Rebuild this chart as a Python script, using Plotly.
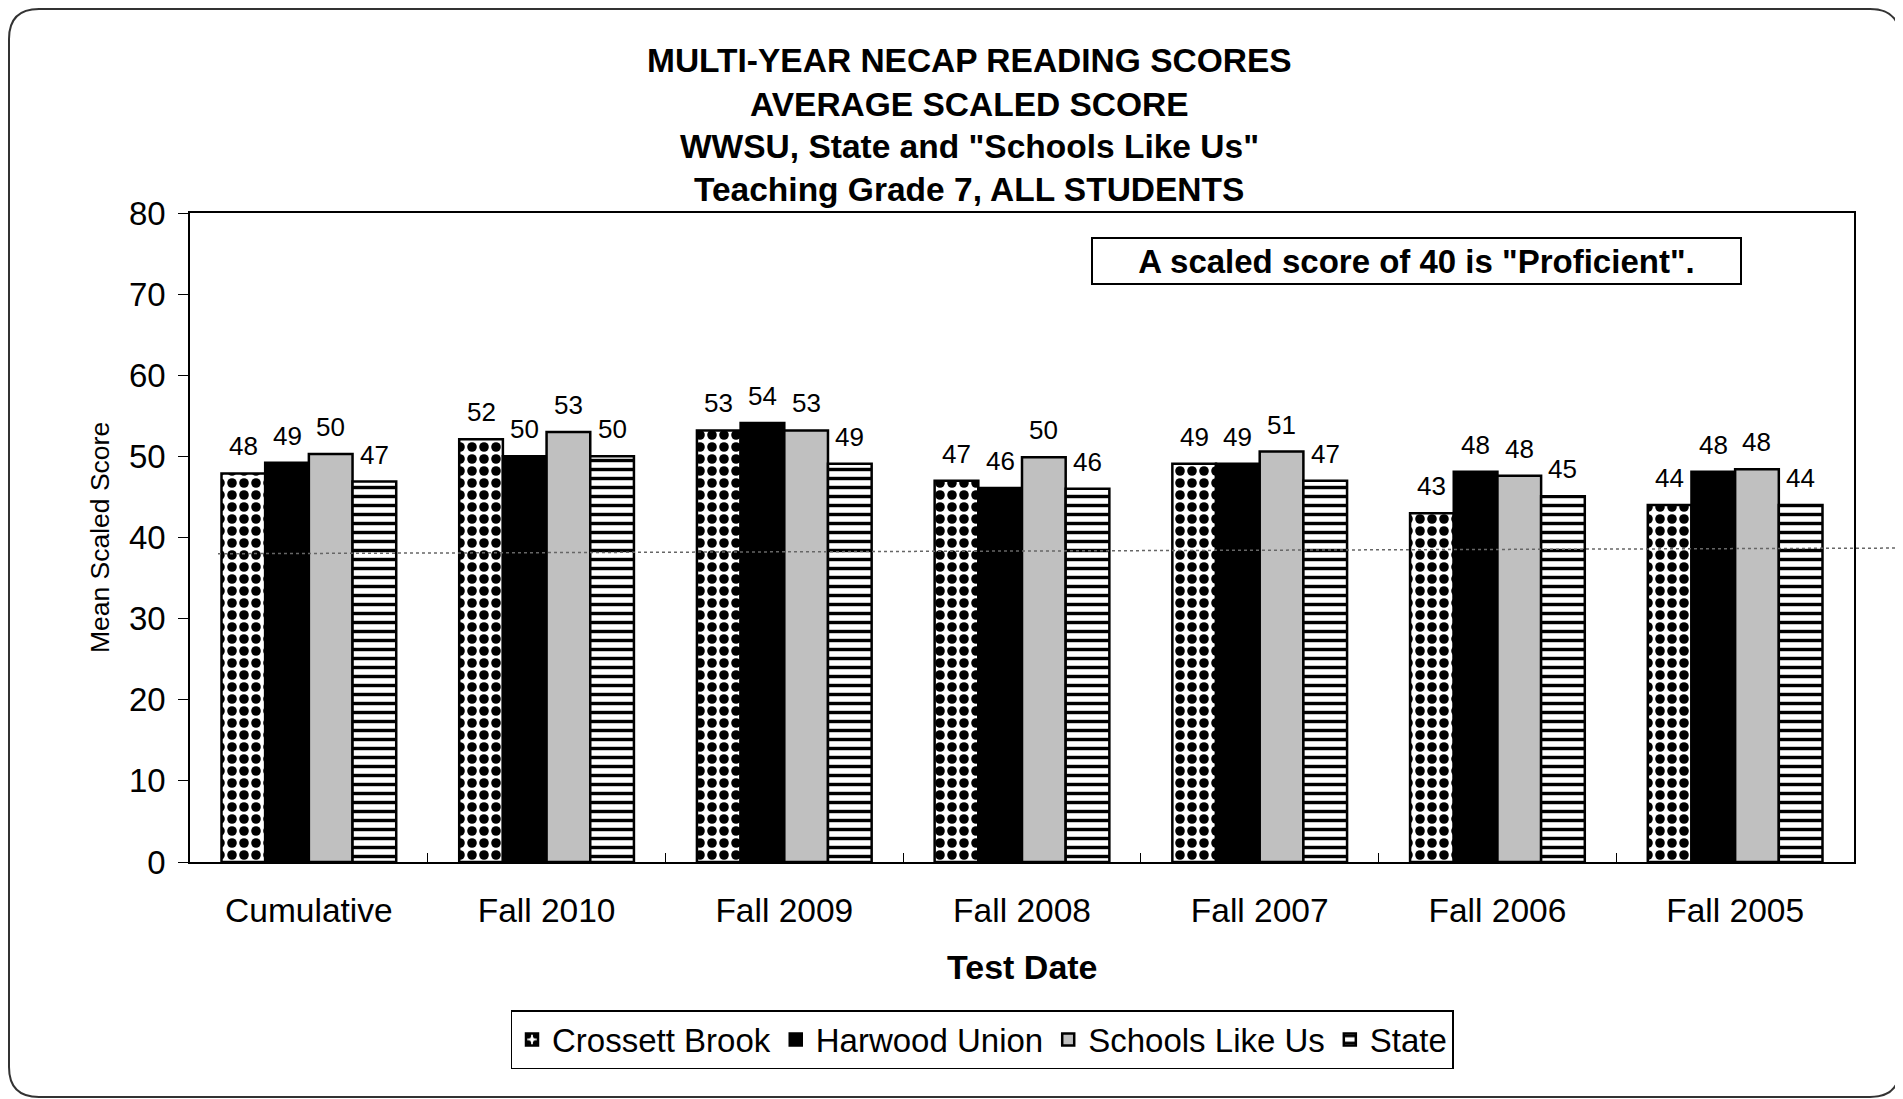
import plotly.graph_objects as go

# data
test_dates = ['Cumulative', 'Fall 2010', 'Fall 2009', 'Fall 2008', 'Fall 2007', 'Fall 2006', 'Fall 2005']
crossett_brook = [47.9, 52.1, 53.2, 47.0, 49.1, 43.0, 44.0]
harwood_union = [49.2, 50.0, 54.1, 46.1, 49.1, 48.1, 48.1]
schools_like_us = [50.3, 53.0, 53.2, 49.9, 50.6, 47.6, 48.4]
state = [46.9, 50.0, 49.1, 46.0, 47.0, 45.1, 44.0]
proficient_line = [38.0, 38.7]  # faint dotted reference line (left end, right end)

title_lines = ['MULTI-YEAR NECAP READING SCORES', 'AVERAGE SCALED SCORE',
               'WWSU, State and "Schools Like Us"', 'Teaching Grade 7, ALL STUDENTS']

# plot area in page pixels (page has an 8px body margin)
OFF = 8
L, R, T, B = 190, 1854, 213, 862
W, H = 1903, 1099
BARGAP = 0.265


def px_x(p):
    return (p - L) / (R - L)


def px_y(p):
    return (B - p) / (B - T)


FONT = 'Liberation Sans, Arial, sans-serif'

fig = go.Figure()

series = [
    ('Crossett Brook', crossett_brook, 'white',
     dict(shape='.', bgcolor='white', fgcolor='black', size=12, solidity=0.5, fillmode='replace')),
    ('Harwood Union', harwood_union, 'black', None),
    ('Schools Like Us', schools_like_us, '#c0c0c0', None),
    ('State', state, 'white',
     dict(shape='-', bgcolor='white', fgcolor='black', size=9, solidity=0.38, fillmode='replace')),
]

annotations = []
cat_w = (R - L) / len(test_dates)
bar_w = cat_w * (1 - BARGAP) / len(series)

for i, (name, vals, color, pattern) in enumerate(series):
    marker = dict(color=color, line=dict(color='black', width=2.5))
    if pattern:
        marker['pattern'] = pattern
    fig.add_trace(go.Bar(x=test_dates, y=vals, name=name, marker=marker))
    # value labels
    for cat, v in zip(test_dates, vals):
        annotations.append(dict(text=f'{v:.0f}', x=cat, y=v, xref='x', yref='y', showarrow=False,
                                xshift=(i - 1.5) * bar_w, yshift=10, yanchor='bottom',
                                font=dict(family=FONT, size=26, color='black')))

title_y = [60.7, 104.4, 146.8, 189.3]
for line, yy in zip(title_lines, title_y):
    annotations.append(dict(text='<b>' + line + '</b>', x=px_x(969), y=px_y(yy), xref='paper', yref='paper',
                            showarrow=False, font=dict(family=FONT, size=33.5, color='black'),
                            xanchor='center', yanchor='middle'))

annotations.append(dict(text='<b>A scaled score of 40 is "Proficient".</b>', x=px_x(1416.5), y=px_y(261),
                        xref='paper', yref='paper', showarrow=False, width=645, height=42,
                        bordercolor='black', borderwidth=2, bgcolor='white',
                        font=dict(family=FONT, size=33, color='black'), xanchor='center', yanchor='middle'))
annotations.append(dict(text='Mean Scaled Score', x=px_x(99.5), y=px_y(537.6), xref='paper', yref='paper',
                        showarrow=False, textangle=-90, font=dict(family=FONT, size=26.5, color='black'),
                        xanchor='center', yanchor='middle'))
annotations.append(dict(text='<b>Test Date</b>', x=px_x(1022), y=px_y(967), xref='paper', yref='paper',
                        showarrow=False, font=dict(family=FONT, size=34, color='black'),
                        xanchor='center', yanchor='middle'))

# rounded page border
x0, x1, y0, y1, r = px_x(9), px_x(1900), px_y(9), px_y(1097), 30
rx, ry = r / (R - L), r / (B - T)
border_path = (f'M {x0 + rx},{y0} L {x1 - rx},{y0} Q {x1},{y0} {x1},{y0 - ry} '
               f'L {x1},{y1 + ry} Q {x1},{y1} {x1 - rx},{y1} L {x0 + rx},{y1} '
               f'Q {x0},{y1} {x0},{y1 + ry} L {x0},{y0 - ry} Q {x0},{y0} {x0 + rx},{y0} Z')

shapes = [
    dict(type='path', path=border_path, xref='paper', yref='paper', line=dict(color='#333333', width=2)),
    dict(type='line', xref='paper', yref='y', x0=px_x(218), x1=px_x(1903), y0=proficient_line[0], y1=proficient_line[1],
         line=dict(color='#666666', width=1.5, dash='dot'), layer='above'),
]

fig.update_layout(
    width=W, height=H,
    margin=dict(l=L - OFF, r=W + OFF - R, t=T - OFF, b=H + OFF - B),
    paper_bgcolor='white', plot_bgcolor='white',
    barmode='group', bargap=BARGAP, bargroupgap=0,
    font=dict(family=FONT, color='black'),
    showlegend=True,
    legend=dict(orientation='h', x=px_x(982), xanchor='center', y=px_y(1010), yanchor='top',
                bordercolor='black', borderwidth=1.5, font=dict(family=FONT, size=33),
                itemwidth=30, traceorder='normal'),
    annotations=annotations,
    shapes=shapes,
)

fig.update_xaxes(showline=True, linecolor='black', linewidth=1.5, mirror=True,
                 ticks='inside', tickson='boundaries', ticklen=9, tickcolor='black',
                 tickfont=dict(family=FONT, size=33.5), ticklabelstandoff=18, showgrid=False)
fig.update_yaxes(range=[0, 80], dtick=10, showline=True, linecolor='black', linewidth=1.5, mirror=True,
                 ticks='outside', ticklen=10, tickcolor='black', showgrid=False, zeroline=False,
                 tickfont=dict(family=FONT, size=33), ticklabelstandoff=6)

fig.write_html('out.html')
